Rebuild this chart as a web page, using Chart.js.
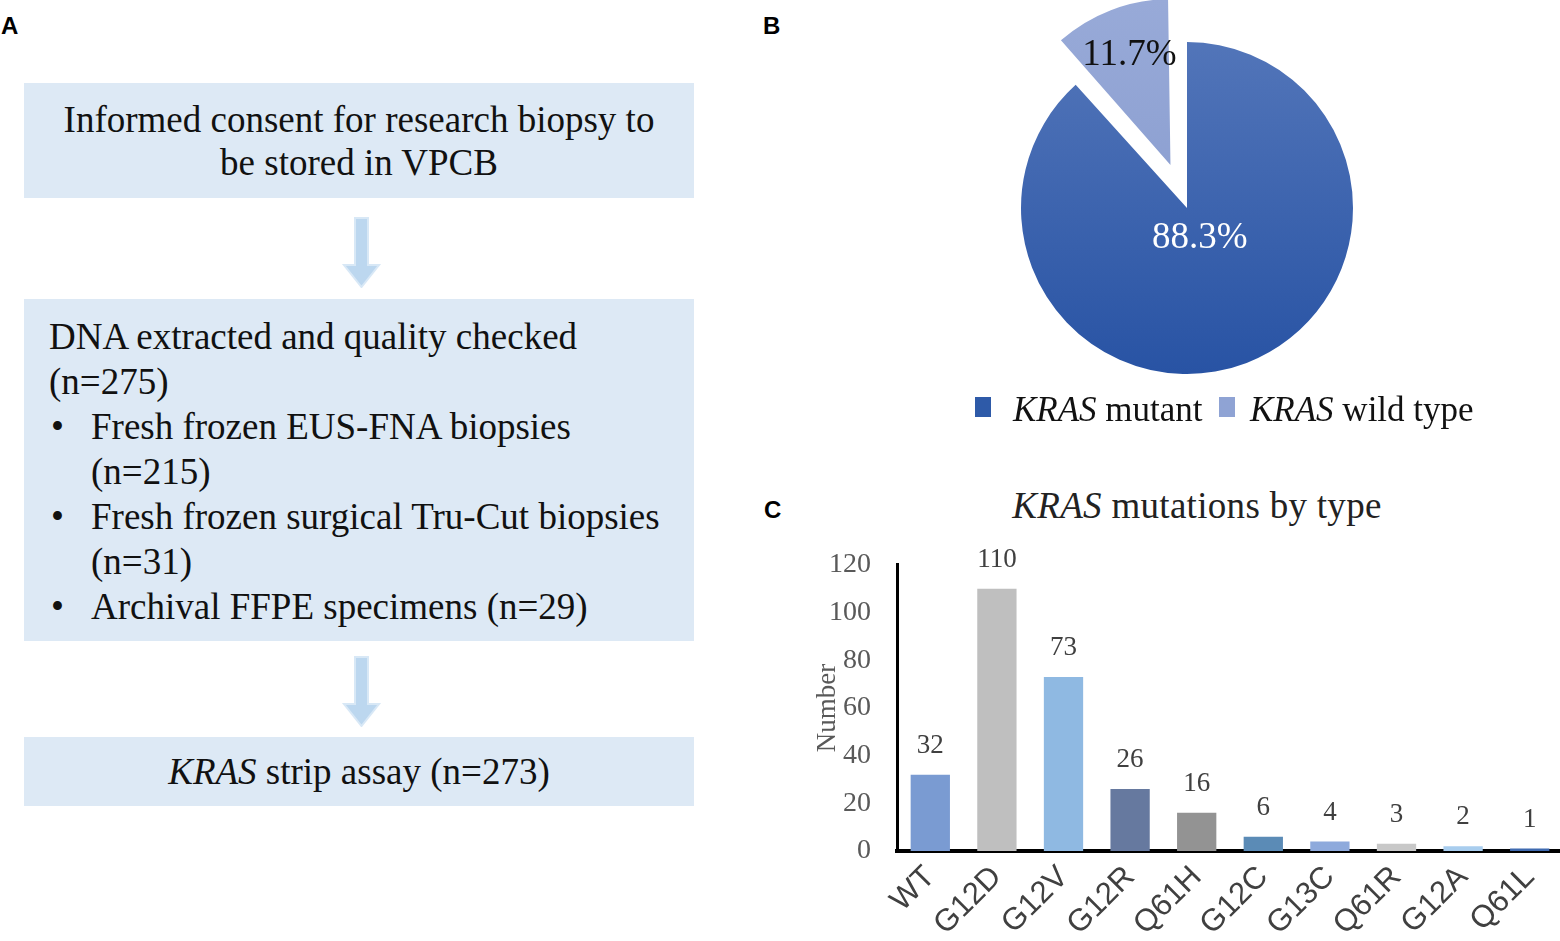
<!DOCTYPE html>
<html>
<head>
<meta charset="utf-8">
<script src="https://cdn.jsdelivr.net/npm/chart.js@4.4.1/dist/chart.umd.min.js"></script>
<style>
  html, body { margin: 0; padding: 0; background: #fff; width: 1560px; height: 941px; overflow: hidden; position: relative; }
  .serif { font-family: "Liberation Serif", "Times New Roman", serif; color: #111; }
  .panel { position: absolute; font-family: "Liberation Sans", Arial, sans-serif; font-weight: bold; font-size: 24px; color: #000; }
  .box { position: absolute; left: 24px; width: 670px; background: #dde9f5; box-sizing: border-box; font-size: 37px; line-height: 45px; white-space: nowrap; }
  .center { text-align: center; }
  .bul { position: relative; padding-left: 42px; }
  .bul::before { content: "•"; position: absolute; left: 2px; }
  .arrow { position: absolute; left: 340px; width: 42px; height: 72px; }
  #pieWrap { position: absolute; left: 937px; top: 0; width: 500px; height: 416px; }
  #barWrap { position: absolute; left: 780px; top: 522px; width: 800px; height: 419px; }
  .legend { position: absolute; top: 389px; font-size: 35px; line-height: 42px; white-space: nowrap; }
  .sw { position: absolute; top: 397px; width: 16px; height: 20px; }
  .ctitle { position: absolute; left: 960px; width: 474px; top: 483px; text-align: center; font-size: 37px; line-height: 46px; letter-spacing: 0.3px; color: #222; white-space: nowrap; }
</style>
</head>
<body>
<div class="panel" style="left:1px;top:12px;">A</div>
<div class="panel" style="left:763px;top:12px;">B</div>
<div class="panel" style="left:764px;top:496px;">C</div>

<!-- A: flow chart -->
<div class="box serif center" style="top:83px;height:115px;padding-top:15px;line-height:43px;">Informed consent for research biopsy to<br>be stored in VPCB</div>
<svg class="arrow" style="top:216px;" viewBox="0 0 42 72"><polygon points="15,2 28,2 28,49 39,49 21.5,71 4,49 15,49" fill="#bcd7ef" stroke="#d8e8f6" stroke-width="2"/></svg>
<div class="box serif" style="top:299px;height:342px;padding:15px 0 0 25px;">
  <div>DNA extracted and quality checked</div>
  <div>(n=275)</div>
  <div class="bul">Fresh frozen EUS-FNA biopsies<br>(n=215)</div>
  <div class="bul">Fresh frozen surgical Tru-Cut biopsies<br>(n=31)</div>
  <div class="bul">Archival FFPE specimens (n=29)</div>
</div>
<svg class="arrow" style="top:655px;" viewBox="0 0 42 72"><polygon points="15,2 28,2 28,49 39,49 21.5,71 4,49 15,49" fill="#bcd7ef" stroke="#d8e8f6" stroke-width="2"/></svg>
<div class="box serif center" style="top:737px;height:69px;padding-top:12px;"><i>KRAS</i> strip assay (n=273)</div>

<!-- B: pie -->
<div id="pieWrap"><canvas id="pie"></canvas></div>
<div class="sw" style="left:975px;background:#2e5aa8;"></div>
<div class="legend serif" style="left:1013px;"><i>KRAS</i> mutant</div>
<div class="sw" style="left:1219px;background:#8fa3d4;"></div>
<div class="legend serif" style="left:1250px;"><i>KRAS</i> wild type</div>

<!-- C: bars -->
<div class="ctitle serif"><i>KRAS</i> mutations by type</div>
<div id="barWrap"><canvas id="bar"></canvas></div>

<script>
// ---- data ----
const pieLabels = ["KRAS mutant", "KRAS wild type"];
const pieValues = [88.3, 11.7];
const pieTopColors = ["#5275b9", "#98aad8"];
const pieBottomColors = ["#2853a4", "#8498cc"];

const mutationTypes = ["WT", "G12D", "G12V", "G12R", "Q61H", "G12C", "G13C", "Q61R", "G12A", "Q61L"];
const mutationCounts = [32, 110, 73, 26, 16, 6, 4, 3, 2, 1];
const barColors = ["#7a9bd2", "#bfbfbf", "#8fb9e2", "#66799f", "#939393", "#5b8bb6", "#8eaadc", "#c8c8c8", "#a8cdee", "#3f6ab0"];

const SERIF = '"Liberation Serif", "Times New Roman", serif';

// exploded slices grow by part of their offset in Chart.js; keep them the same size as the rest
const keepSliceRadius = {
  id: "keepSliceRadius",
  afterDatasetsUpdate(chart){
    chart.getDatasetMeta(0).data.forEach(a => {
      const off = (a.options.offset || 0) / 4;
      const fix = 1 - Math.sin(Math.min(Math.PI, a.circumference || 0));
      a.outerRadius -= off * fix;
    });
  }
};

// slice labels on the pie, drawn at a fraction of the radius along each slice's middle
const pieLabelPlugin = {
  id: "pieLabels",
  afterDatasetsDraw(chart){
    const ctx = chart.ctx;
    const arcs = chart.getDatasetMeta(0).data;
    const frac = [0.18, 1.0];
    const colors = ["#ffffff", "#111111"];
    ctx.save();
    ctx.font = "37px " + SERIF;
    ctx.textAlign = "center";
    ctx.textBaseline = "middle";
    arcs.forEach((a, i) => {
      const mid = (a.startAngle + a.endAngle) / 2;
      const r = 166 * frac[i];
      ctx.fillStyle = colors[i];
      ctx.fillText(pieValues[i].toFixed(1) + "%", a.x + Math.cos(mid) * r + 2, a.y + Math.sin(mid) * r + 2);
    });
    ctx.restore();
  }
};

function sliceGradient(c){
  const area = c.chart.chartArea;
  const i = c.dataIndex;
  if(!area) return pieBottomColors[i];
  const cy = (area.top + area.bottom) / 2;
  const g = c.chart.ctx.createLinearGradient(0, cy - 166, 0, cy + 166);
  g.addColorStop(0, pieTopColors[i]);
  g.addColorStop(1, pieBottomColors[i]);
  return g;
}

new Chart(document.getElementById("pie"), {
  type: "pie",
  data: {
    labels: pieLabels,
    datasets: [{
      data: pieValues,
      backgroundColor: sliceGradient,
      borderWidth: 0,
      offset: [0, 184]
    }]
  },
  options: {
    responsive: true,
    maintainAspectRatio: false,
    animation: false,
    radius: 166,
    layout: { padding: 0 },
    plugins: { legend: { display: false }, tooltip: { enabled: false } }
  },
  plugins: [keepSliceRadius, pieLabelPlugin]
});

// value labels above bars
const barValuePlugin = {
  id: "barValues",
  afterDatasetsDraw(chart){
    const ctx = chart.ctx;
    ctx.save();
    ctx.font = "27px " + SERIF;
    ctx.fillStyle = "#404040";
    ctx.textAlign = "center";
    ctx.textBaseline = "middle";
    chart.getDatasetMeta(0).data.forEach((b, i) => {
      ctx.fillText(String(mutationCounts[i]), b.x, b.y - 29);
    });
    ctx.restore();
  }
};

new Chart(document.getElementById("bar"), {
  type: "bar",
  data: {
    labels: mutationTypes,
    datasets: [{
      data: mutationCounts,
      backgroundColor: barColors,
      borderWidth: 0,
      categoryPercentage: 1.0,
      barPercentage: 0.59
    }]
  },
  options: {
    responsive: true,
    maintainAspectRatio: false,
    animation: false,
    layout: { padding: { top: 16, right: 17, left: 0, bottom: 0 } },
    plugins: { legend: { display: false }, tooltip: { enabled: false } },
    scales: {
      x: {
        grid: { display: false, drawTicks: false },
        border: { display: true, color: "#000", width: 4 },
        ticks: {
          color: "#404040",
          font: { family: '"Liberation Sans", Arial, sans-serif', size: 31 },
          minRotation: 45, maxRotation: 45,
          padding: 8
        },
        afterFit(s){ s.height = 90; }
      },
      y: {
        min: 0, max: 120,
        grid: { display: false, drawTicks: false },
        border: { display: true, color: "#000", width: 3 },
        ticks: {
          stepSize: 20,
          color: "#595959",
          font: { family: SERIF, size: 28 },
          padding: 26
        },
        title: {
          display: true,
          text: "Number",
          color: "#595959",
          font: { family: SERIF, size: 27 },
          padding: { top: 32, bottom: 0 }
        },
        afterFit(s){ s.width = 117; }
      }
    }
  },
  plugins: [barValuePlugin]
});
</script>
</body>
</html>
